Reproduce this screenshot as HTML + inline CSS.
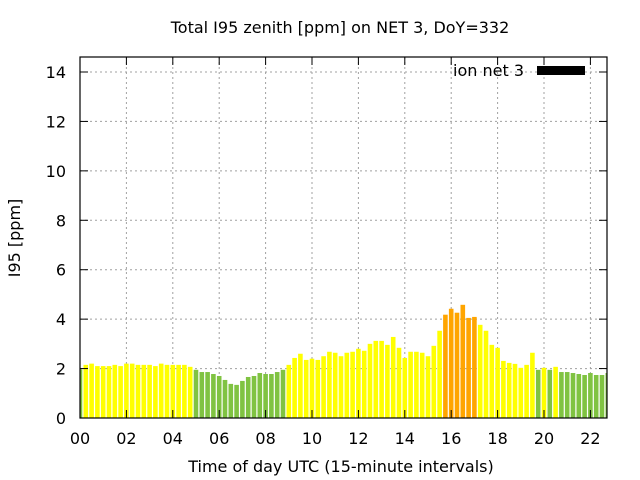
<!DOCTYPE html>
<html><head><meta charset="utf-8"><style>
html,body{margin:0;padding:0;background:#fff;}
svg{display:block;font-family:"DejaVu Sans","Liberation Sans",sans-serif;}
</style></head><body>
<svg id="chart" width="640" height="480">
<text x="340" y="33" text-anchor="middle" font-size="16">Total I95 zenith [ppm] on NET 3, DoY=332</text>
<text x="341" y="472" text-anchor="middle" font-size="16">Time of day UTC (15-minute intervals)</text>
<text transform="translate(20,238) rotate(-90)" text-anchor="middle" font-size="16">I95 [ppm]</text>
<defs><clipPath id="pc"><rect x="80" y="57" width="527" height="361"/></clipPath></defs>
<g id="grid"></g>
<g id="bars" clip-path="url(#pc)"></g>
<g id="axes"></g>
<g>
<text x="524" y="76" text-anchor="end" font-size="16">ion net 3</text>
<rect x="537" y="66" width="48" height="9" fill="#000"/>
</g>
</svg>
<script>
const values = [1.97,2.15,2.2,2.1,2.1,2.1,2.15,2.1,2.2,2.2,2.15,2.15,2.15,2.1,2.2,2.15,2.15,2.15,2.15,2.07,
1.95,1.86,1.86,1.78,1.7,1.54,1.38,1.34,1.5,1.66,1.7,1.82,1.78,1.78,1.86,1.95,
2.15,2.43,2.6,2.35,2.4,2.35,2.5,2.68,2.64,2.5,2.64,2.68,2.8,2.72,3.0,3.12,3.12,2.96,3.28,2.84,2.43,2.68,2.68,2.64,2.5,2.92,3.53,
4.18,4.42,4.26,4.58,4.05,4.09,3.77,3.53,2.96,2.84,2.31,2.23,2.19,2.03,2.15,2.64,
1.95,2.03,1.95,2.07,1.86,1.86,1.82,1.78,1.74,1.82,1.74,1.74,1.82];
const yTicks = [0,2,4,6,8,10,12,14];
const xTickLabels = ["00","02","04","06","08","10","12","14","16","18","20","22"];
const NS="http://www.w3.org/2000/svg";
const L=80,R=607,T=57,B=418;
const xs=i=>L+5.8*i;
const ys=v=>B-v*(B-72)/14;
function mk(tag,at,parent){const e=document.createElementNS(NS,tag);for(const k in at)e.setAttribute(k,at[k]);parent.appendChild(e);return e;}
const grid=document.getElementById('grid'),axes=document.getElementById('axes'),bars=document.getElementById('bars');
yTicks.forEach(t=>{const y=ys(t);
 if(t>0){const g=mk('line',{x1:L,x2:R,y1:y,y2:y,stroke:'#a0a0a0','stroke-dasharray':'2,3'},grid);
 
 }
 const a=mk('line',{x1:L,x2:L+8,y1:y,y2:y,stroke:'#000'},axes);
 
 
 mk('line',{x1:R-8,x2:R,y1:y,y2:y,stroke:'#000'},axes);
 const tx=mk('text',{x:L-14,y:y+6,'text-anchor':'end','font-size':16},axes);tx.textContent=t;
 
 
});
xTickLabels.forEach((lab,k)=>{const x=xs(k*8);
 if(k>0){const g=mk('line',{x1:x,x2:x,y1:T,y2:B,stroke:'#a0a0a0','stroke-dasharray':'2,3'},grid);
 
 }
 const a=mk('line',{x1:x,x2:x,y1:B,y2:B-8,stroke:'#000'},axes);
 
 
 mk('line',{x1:x,x2:x,y1:T,y2:T+8,stroke:'#000'},axes);
 const tx=mk('text',{x:x,y:B+26,'text-anchor':'middle','font-size':16},axes);tx.textContent=lab;
 
 
});
values.forEach((v,i)=>{const c=v<2?'#80c342':(v<4?'#ffff00':'#ffa500');
 const b=mk('rect',{x:xs(i)-2.3,y:ys(v),width:4.6,height:B-ys(v),fill:c},bars);
 
 
});
const f=mk('rect',{x:L,y:T,width:R-L,height:B-T,fill:'none',stroke:'#000','stroke-width':1.2},axes);


</script>
</body></html>
